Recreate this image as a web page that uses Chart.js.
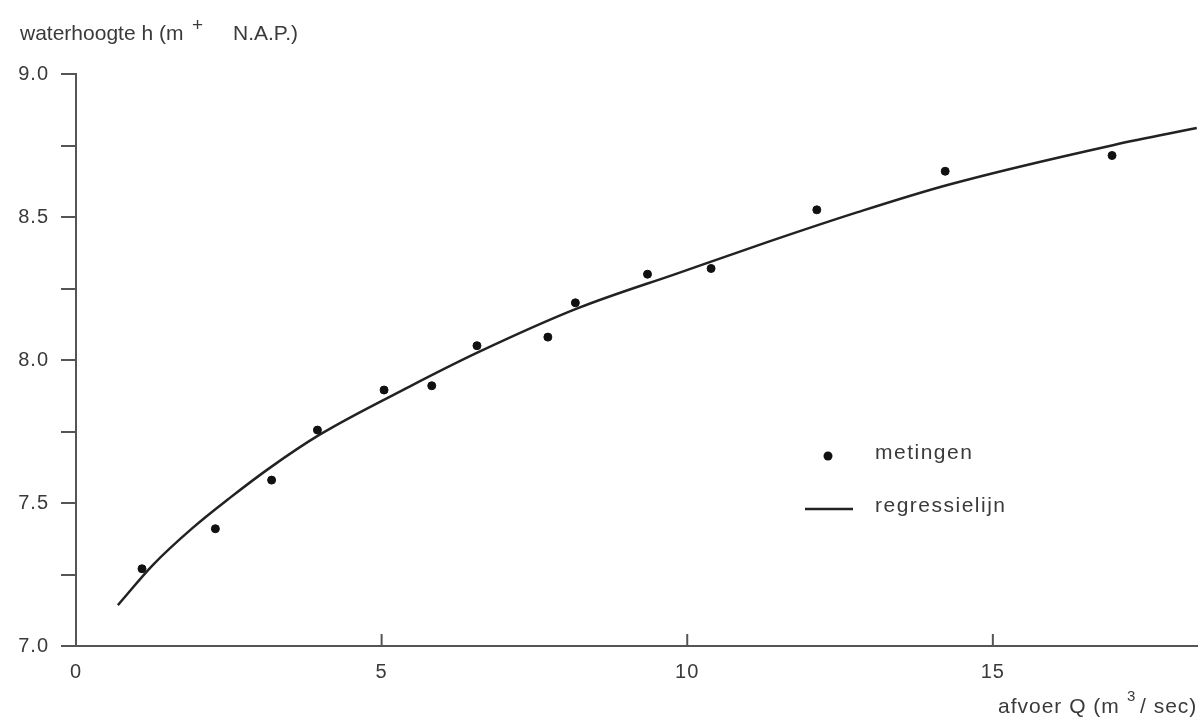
<!DOCTYPE html>
<html lang="nl">
<head>
    <meta charset="UTF-8">
    <title>Waterhoogte tegen afvoer</title>
    <script src="https://cdn.jsdelivr.net/npm/chart.js"></script>
    <style>
        body {
            margin: 0;
            padding: 0;
            background: #fff;
        }

        .chart-box {
            width: 1202px;
            height: 718px;
        }
    </style>
</head>
<body>
    <div class="chart-box">
        <canvas id="qhChart"></canvas>
    </div>

    <script>
        // metingen (afvoer Q, waterhoogte h)
        const measuredQ = [1.08, 2.28, 3.2, 3.95, 5.04, 5.82, 6.56, 7.72, 8.17, 9.35, 10.39, 12.12, 14.22, 16.95];
        const measuredH = [7.27, 7.41, 7.58, 7.755, 7.895, 7.91, 8.05, 8.08, 8.2, 8.3, 8.32, 8.525, 8.66, 8.715];

        const curveQ = [0.685, 1.256, 1.909, 2.512, 3.165, 3.98, 5.449, 6.591, 8.222, 9.853, 11.321, 12.79, 14.258, 16.982, 18.336];
        const curveH = [7.143, 7.283, 7.413, 7.517, 7.622, 7.738, 7.906, 8.028, 8.182, 8.304, 8.413, 8.517, 8.612, 8.752, 8.811];

        const xTicks = [0, 5, 10, 15];
        const yMin = 7.0, yMax = 9.0, yStep = 0.25;
        const legendLabels = ['metingen', 'regressielijn'];
        const yTitle = ['waterhoogte h (m', '+', 'N.A.P.)'];
        const xTitle = ['afvoer Q (m', '3', '/ sec)'];

        const ink = '#3a3a3a';
        const axisColor = '#555';
        const fontFamily = "'Liberation Sans', Arial, sans-serif";

        const measured = measuredQ.map((q, i) => ({ x: q, y: measuredH[i] }));
        const curve = curveQ.map((q, i) => ({ x: q, y: curveH[i] }));

        // x-ticks point inwards, plus titles and the legend
        const decorations = {
            id: 'decorations',
            beforeDraw(chart) {
                chart.ctx.letterSpacing = '1px';
            },
            afterDraw(chart) {
                const ctx = chart.ctx;
                const xs = chart.scales.x;
                const area = chart.chartArea;
                ctx.save();
                ctx.strokeStyle = axisColor;
                ctx.lineWidth = 2;
                xTicks.forEach(v => {
                    if (v === 0) return;
                    const px = xs.getPixelForValue(v);
                    ctx.beginPath();
                    ctx.moveTo(px, area.bottom);
                    ctx.lineTo(px, area.bottom - 12);
                    ctx.stroke();
                });

                ctx.fillStyle = ink;
                ctx.textBaseline = 'alphabetic';
                ctx.textAlign = 'left';
                ctx.letterSpacing = '0px';
                ctx.font = '21px ' + fontFamily;
                ctx.fillText(yTitle[0], 20, 40);
                ctx.fillText(yTitle[2], 233, 40);
                ctx.font = '19px ' + fontFamily;
                ctx.fillText(yTitle[1], 192, 31);

                ctx.letterSpacing = '1px';
                ctx.font = '21px ' + fontFamily;
                ctx.fillText(xTitle[0], 998, 713);
                ctx.fillText(xTitle[2], 1140, 713);
                ctx.font = '15px ' + fontFamily;
                ctx.fillText(xTitle[1], 1127, 701);

                // legend
                ctx.fillStyle = '#111';
                ctx.beginPath();
                ctx.arc(828, 456, 4.5, 0, Math.PI * 2);
                ctx.fill();
                ctx.strokeStyle = '#222';
                ctx.lineWidth = 2.5;
                ctx.beginPath();
                ctx.moveTo(805, 509);
                ctx.lineTo(853, 509);
                ctx.stroke();
                ctx.fillStyle = ink;
                ctx.letterSpacing = '1.5px';
                ctx.font = '21px ' + fontFamily;
                ctx.fillText(legendLabels[0], 875, 459);
                ctx.fillText(legendLabels[1], 875, 512);
                ctx.restore();
            }
        };

        new Chart(document.getElementById('qhChart'), {
            type: 'scatter',
            data: {
                datasets: [
                    {
                        label: legendLabels[0],
                        data: measured,
                        backgroundColor: '#111',
                        borderColor: '#111',
                        pointRadius: 4,
                        order: 1
                    },
                    {
                        label: legendLabels[1],
                        data: curve,
                        showLine: true,
                        borderColor: '#222',
                        borderWidth: 2.5,
                        pointRadius: 0,
                        cubicInterpolationMode: 'monotone',
                        order: 2
                    }
                ]
            },
            options: {
                responsive: true,
                maintainAspectRatio: false,
                animation: false,
                layout: { padding: { top: 74, right: 2, bottom: 0, left: 0 } },
                plugins: {
                    legend: { display: false },
                    tooltip: { enabled: false }
                },
                scales: {
                    x: {
                        type: 'linear',
                        min: 0,
                        max: 18.34,
                        afterBuildTicks: scale => {
                            scale.ticks = xTicks.map(v => ({ value: v }));
                        },
                        afterFit: scale => { scale.height = 72; },
                        grid: { display: false, drawTicks: false },
                        border: { display: true, color: axisColor, width: 2 },
                        ticks: {
                            padding: 14,
                            color: ink,
                            font: { family: fontFamily, size: 20 },
                            callback: v => String(v)
                        }
                    },
                    y: {
                        min: yMin,
                        max: yMax,
                        afterFit: scale => { scale.width = 76; },
                        grid: {
                            drawOnChartArea: false,
                            drawTicks: true,
                            tickLength: 15,
                            color: axisColor,
                            lineWidth: 2
                        },
                        border: { display: true, color: axisColor, width: 2 },
                        ticks: {
                            stepSize: yStep,
                            padding: 12,
                            color: ink,
                            font: { family: fontFamily, size: 20 },
                            callback: v => (Math.abs(v * 2 - Math.round(v * 2)) < 1e-9 ? v.toFixed(1) : '')
                        }
                    }
                }
            },
            plugins: [decorations]
        });
    </script>
</body>
</html>
